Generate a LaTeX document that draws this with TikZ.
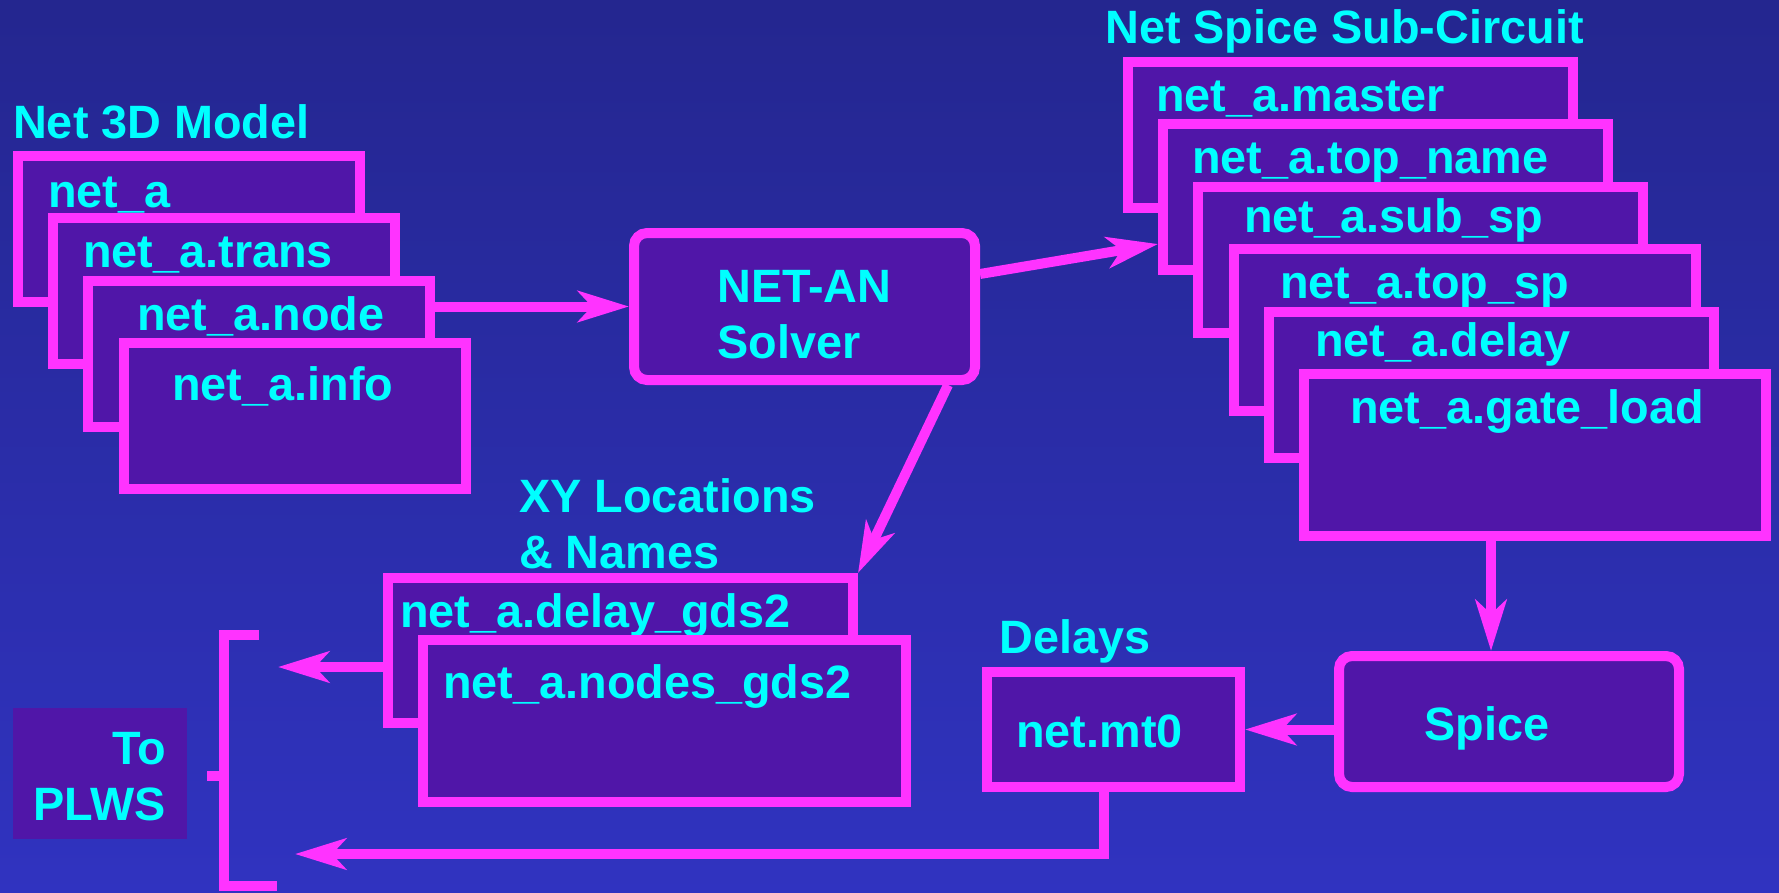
\documentclass[tikz,border=0pt]{standalone}
\usepackage{fontspec}
\setmainfont{Liberation Sans}
\usetikzlibrary{arrows.meta}
\definecolor{bgtop}{RGB}{36,38,143}
\definecolor{bgbot}{RGB}{48,51,192}
\definecolor{boxfill}{RGB}{80,22,168}
\definecolor{mag}{RGB}{255,51,255}
\definecolor{cyn}{RGB}{0,255,255}
\tikzset{
  filebox/.style={draw=mag, fill=boxfill, line width=10pt, inner sep=0pt},
  roundbox/.style={filebox, rounded corners=13pt},
  lbl/.style={text=cyn, font=\fontsize{46.8}{56}\selectfont\bfseries, inner sep=0pt, anchor=base west},
  arr/.style={draw=mag, line width=10pt, -{Stealth[length=51pt, width=31pt, inset=14pt]}},
  link/.style={draw=mag, line width=10pt},
}
\begin{document}
\begin{tikzpicture}[x=1pt, y=-1pt]
\shade[top color=bgtop, bottom color=bgbot] (0,0) rectangle (1779,892);
\useasboundingbox (0,0) rectangle (1779,892);

% helper coordinates
\coordinate (ya) at (0,274);
\coordinate (yb) at (0,244);
\coordinate (xs) at (948,0);
\coordinate (xg) at (1491,0);
\coordinate (xm) at (1104,0);
\coordinate (t1) at (278,667);
\coordinate (t2) at (295,854);

% Net 3D Model stack
\node[lbl] (tmodel) at (13,138) {Net 3D Model};
\node[filebox, minimum width=342pt, minimum height=146pt] (a1) at (189,228.5) {};
\node[lbl] (la1) at (48,207) {net\_a};
\node[filebox, minimum width=342pt, minimum height=146pt] (a2) at (224,291) {};
\node[lbl] (la2) at (83,267) {net\_a.trans};
\node[filebox, minimum width=342pt, minimum height=146pt] (a3) at (259,353.5) {};
\node[lbl] (la3) at (137,330) {net\_a.node};
\node[filebox, minimum width=342pt, minimum height=146pt] (a4) at (295,416) {};
\node[lbl] (la4) at (172,400) {net\_a.info};

% Solver
\node[roundbox, minimum width=341pt, minimum height=147pt] (solver) at (804.5,306.5) {};
\node[lbl] (ls1) at (717,302) {NET-AN};
\node[lbl] (ls2) at (717,358) {Solver};

% Net Spice Sub-Circuit stack
\node[lbl] (tspice) at (1105,43) {Net Spice Sub-Circuit};
\node[filebox, minimum width=445pt, minimum height=146pt] (b1) at (1350.5,135) {};
\node[lbl] (lb1) at (1156,111) {net\_a.master};
\node[filebox, minimum width=445pt, minimum height=146pt] (b2) at (1385.5,197) {};
\node[lbl] (lb2) at (1192,173) {net\_a.top\_name};
\node[filebox, minimum width=445pt, minimum height=146pt] (b3) at (1420.5,260) {};
\node[lbl] (lb3) at (1244,232) {net\_a.sub\_sp};
\node[filebox, minimum width=462pt, minimum height=162pt] (b4) at (1465,330) {};
\node[lbl] (lb4) at (1280,298) {net\_a.top\_sp};
\node[filebox, minimum width=445pt, minimum height=146pt] (b5) at (1491.5,385) {};
\node[lbl] (lb5) at (1315,356) {net\_a.delay};
\node[filebox, minimum width=462pt, minimum height=162pt] (b6) at (1535,455) {};
\node[lbl] (lb6) at (1350,423) {net\_a.gate\_load};

% Spice
\node[roundbox, minimum width=340pt, minimum height=131pt] (spice) at (1509,721.5) {};
\node[lbl] (lsp) at (1424,740) {Spice};

% Delays
\node[lbl] (tdelay) at (999,653) {Delays};
\node[filebox, minimum width=253pt, minimum height=115pt] (mt0) at (1113.5,729.5) {};
\node[lbl] (lmt) at (1016,747) {net.mt0};

% XY Locations
\node[lbl] (txy1) at (519,512) {XY Locations};
\node[lbl] (txy2) at (519,568) {\& Names};
\node[filebox, minimum width=465pt, minimum height=145pt] (c1) at (620.5,650.5) {};
\node[lbl] (lc1) at (400,627) {net\_a.delay\_gds2};
\node[filebox, minimum width=483pt, minimum height=162pt] (c2) at (664.5,721) {};
\node[lbl] (lc2) at (443,698) {net\_a.nodes\_gds2};

% To PLWS
\node[fill=boxfill, minimum width=174pt, minimum height=131pt, inner sep=0pt] (plws) at (100,773.5) {};
\node[lbl, anchor=base east] (lp1) at (166,764) {To};
\node[lbl, anchor=base east] (lp2) at (166,820) {PLWS};

% bracket
\draw[link, line join=miter] (259,635) -- (224,635) -- (224,886) -- (277,886);
\draw[link] (207,776) -- (224,776);

% connectors
\draw[arr] (a3.east |- solver.west) -- (solver.west);
\draw[arr] (solver.east |- ya) -- (b2.west |- yb);
\draw[arr] (solver.south -| xs) -- (c1.north east);
\draw[arr] (b6.south -| xg) -- (spice.north -| xg);
\draw[arr] (spice.west |- mt0.east) -- (mt0.east);
\draw[arr] (c1.west |- t1) -- (t1);
\draw[arr] (mt0.south -| xm) |- (t2);
\end{tikzpicture}
\end{document}
